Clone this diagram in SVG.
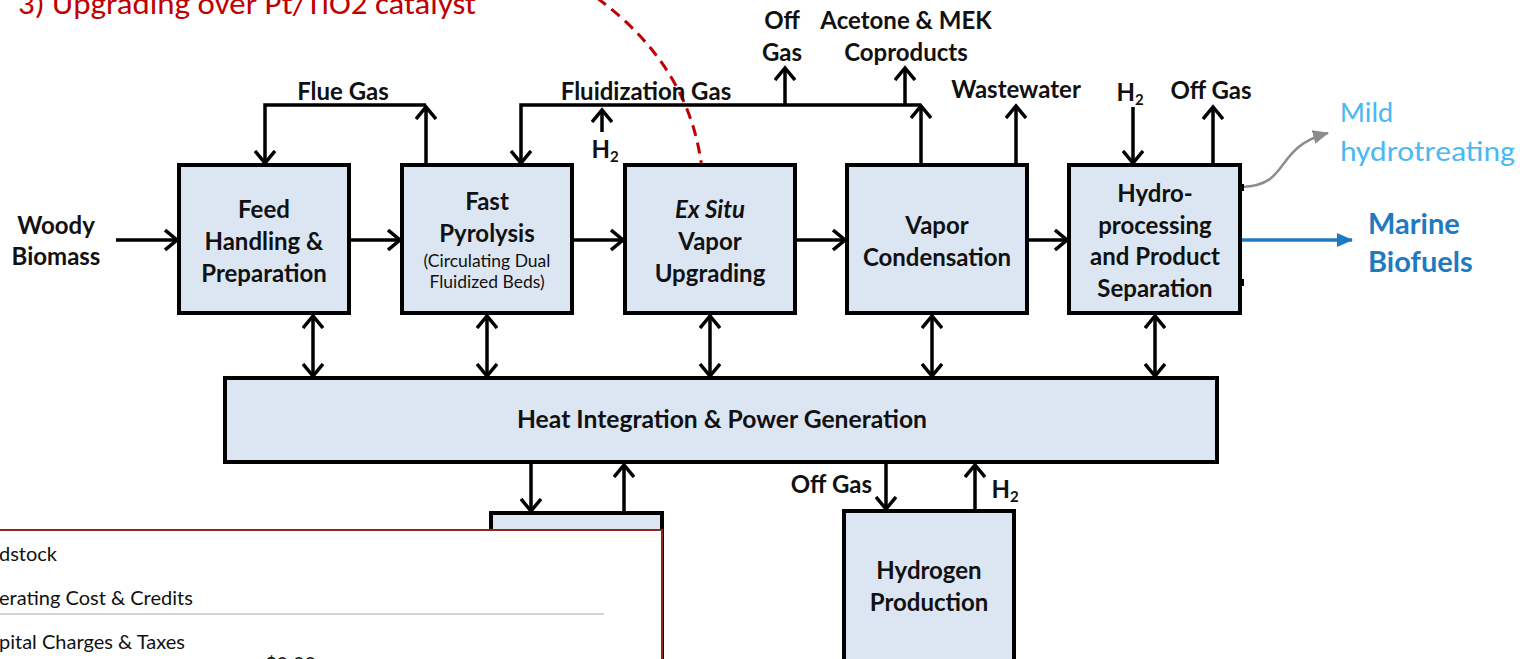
<svg xmlns="http://www.w3.org/2000/svg" width="1520" height="659" viewBox="0 0 1520 659">
<style>
.box{fill:#dce6f2;stroke:#000;stroke-width:4}
.t{font-family:Lato,"Open Sans","Liberation Sans",sans-serif;font-weight:bold;font-size:24px;fill:#111;text-anchor:middle}
.e{text-anchor:end}
.s{font-family:Lato,"Open Sans","Liberation Sans",sans-serif;font-size:17.5px;fill:#111;text-anchor:middle}
.c{fill:none;stroke:#000;stroke-width:3.5}
.tb{font-family:Lato,"Open Sans","Liberation Sans",sans-serif;font-size:20px;fill:#111}
</style>
<defs>
<marker id="ah" markerUnits="userSpaceOnUse" markerWidth="16" markerHeight="22" refX="13" refY="11" orient="auto-start-reverse" viewBox="0 0 16 22">
<path d="M1,1 L13,11 L1,21" fill="none" stroke="#000" stroke-width="3.5"/>
</marker>
<marker id="blue" markerUnits="userSpaceOnUse" markerWidth="16" markerHeight="14" refX="15" refY="7" orient="auto" viewBox="0 0 16 14">
<path d="M0,0 L16,7 L0,14 z" fill="#1f7ac0"/>
</marker>
<marker id="gray" markerUnits="userSpaceOnUse" markerWidth="16" markerHeight="14" refX="15" refY="7" orient="auto" viewBox="0 0 16 14">
<path d="M0,0 L16,7 L0,14 z" fill="#8c8c8c"/>
</marker>
</defs>
<rect width="1520" height="659" fill="#fff"/>

<text x="18" y="14" font-family="Calibri,'Open Sans','Liberation Sans',sans-serif" font-size="31" fill="#c00000" textLength="458" lengthAdjust="spacingAndGlyphs">3)   Upgrading over Pt/TiO2 catalyst</text>

<g id="connectors">
<line class="c" x1="116" y1="240" x2="177" y2="240" marker-end="url(#ah)"/>
<line class="c" x1="349" y1="240" x2="400" y2="240" marker-end="url(#ah)"/>
<line class="c" x1="572" y1="240" x2="623" y2="240" marker-end="url(#ah)"/>
<line class="c" x1="795" y1="240" x2="845" y2="240" marker-end="url(#ah)"/>
<line class="c" x1="1027" y1="240" x2="1067" y2="240" marker-end="url(#ah)"/>
<line x1="1242" y1="240" x2="1352" y2="240" stroke="#1f7ac0" stroke-width="3.5" marker-end="url(#blue)"/>
<path d="M1242 187 C1292 185 1272 148 1328 133" fill="none" stroke="#8c8c8c" stroke-width="2.5" marker-end="url(#gray)"/>
<line class="c" x1="426" y1="165" x2="426" y2="107" marker-end="url(#ah)"/>
<polyline class="c" points="426,105 265,105 265,163" marker-end="url(#ah)"/>
<line class="c" x1="921" y1="165" x2="921" y2="106" marker-end="url(#ah)"/>
<polyline class="c" points="921,105 521,105 521,163" marker-end="url(#ah)"/>
<line class="c" x1="785" y1="105" x2="785" y2="68" marker-end="url(#ah)"/>
<line class="c" x1="905" y1="105" x2="905" y2="68" marker-end="url(#ah)"/>
<line class="c" x1="602" y1="132" x2="602" y2="110" marker-end="url(#ah)"/>
<line class="c" x1="1016" y1="165" x2="1016" y2="106" marker-end="url(#ah)"/>
<line class="c" x1="1133" y1="107" x2="1133" y2="163" marker-end="url(#ah)"/>
<line class="c" x1="1213" y1="165" x2="1213" y2="107" marker-end="url(#ah)"/>
<line class="c" x1="313" y1="316" x2="313" y2="376" marker-start="url(#ah)" marker-end="url(#ah)"/>
<line class="c" x1="487" y1="316" x2="487" y2="376" marker-start="url(#ah)" marker-end="url(#ah)"/>
<line class="c" x1="710" y1="316" x2="710" y2="376" marker-start="url(#ah)" marker-end="url(#ah)"/>
<line class="c" x1="932" y1="316" x2="932" y2="376" marker-start="url(#ah)" marker-end="url(#ah)"/>
<line class="c" x1="1155" y1="316" x2="1155" y2="376" marker-start="url(#ah)" marker-end="url(#ah)"/>
<line class="c" x1="531" y1="463" x2="531" y2="511" marker-end="url(#ah)"/>
<line class="c" x1="624" y1="513" x2="624" y2="465" marker-end="url(#ah)"/>
<line class="c" x1="886" y1="463" x2="886" y2="509" marker-end="url(#ah)"/>
<line class="c" x1="975" y1="511" x2="975" y2="465" marker-end="url(#ah)"/>
<path d="M597 -2 Q695 70 703 180" fill="none" stroke="#c00000" stroke-width="3" stroke-dasharray="11,7"/>
</g>

<g id="labels">
<text class="t" x="56" y="234">Woody</text>
<text class="t" x="56" y="265">Biomass</text>
<text class="t" x="343" y="100">Flue Gas</text>
<text class="t" x="646" y="100">Fluidization Gas</text>
<text class="t" x="782" y="29">Off</text>
<text class="t" x="782" y="61">Gas</text>
<text class="t" x="906" y="29">Acetone &amp; MEK</text>
<text class="t" x="906" y="61">Coproducts</text>
<text class="t" x="1016" y="98">Wastewater</text>
<text class="t" x="1211" y="99">Off Gas</text>
<text class="t" x="1130" y="101">H<tspan font-size="15" dy="4">2</tspan></text>
<text class="t" x="605" y="158">H<tspan font-size="15" dy="4">2</tspan></text>
<text class="t e" x="872" y="493">Off Gas</text>
<text class="t" x="1005" y="498">H<tspan font-size="15" dy="4">2</tspan></text>
<text x="1340" y="122" font-family="Calibri,Lato,'Open Sans',sans-serif" font-size="29" fill="#4ab8f2">Mild</text>
<text x="1340" y="161" font-family="Calibri,Lato,'Open Sans',sans-serif" font-size="29" fill="#4ab8f2" textLength="175" lengthAdjust="spacingAndGlyphs">hydrotreating</text>
<text x="1368" y="234" font-family="Lato,'Open Sans',sans-serif" font-weight="bold" font-size="29" fill="#1f7ac0">Marine</text>
<text x="1368" y="272" font-family="Lato,'Open Sans',sans-serif" font-weight="bold" font-size="29" fill="#1f7ac0">Biofuels</text>
</g>

<g id="feed">
<rect class="box" x="179" y="165" width="170" height="148"/>
<text class="t" x="264" y="218">Feed</text>
<text class="t" x="264" y="250">Handling &amp;</text>
<text class="t" x="264" y="282">Preparation</text>
</g>
<g id="pyrolysis">
<rect class="box" x="402" y="165" width="170" height="148"/>
<text class="t" x="487" y="210">Fast</text>
<text class="t" x="487" y="242">Pyrolysis</text>
<text class="s" x="487" y="267">(Circulating Dual</text>
<text class="s" x="487" y="288">Fluidized Beds)</text>
</g>
<g id="exsitu">
<rect class="box" x="625" y="165" width="170" height="148"/>
<text class="t" x="710" y="218" font-style="italic">Ex Situ</text>
<text class="t" x="710" y="250">Vapor</text>
<text class="t" x="710" y="282">Upgrading</text>
</g>
<g id="condensation">
<rect class="box" x="847" y="165" width="180" height="148"/>
<text class="t" x="937" y="234">Vapor</text>
<text class="t" x="937" y="266">Condensation</text>
</g>
<g id="hydroprocessing">
<rect class="box" x="1069" y="165" width="171" height="148"/>
<rect x="1240" y="184" width="4" height="7" fill="#000"/>
<rect x="1240" y="279" width="4" height="7" fill="#000"/>
<text class="t" x="1155" y="202">Hydro-</text>
<text class="t" x="1155" y="234">processing</text>
<text class="t" x="1155" y="265">and Product</text>
<text class="t" x="1155" y="297">Separation</text>
</g>
<g id="heat">
<rect class="box" x="225" y="378" width="992" height="84"/>
<text class="t" x="722" y="428" textLength="410" lengthAdjust="spacingAndGlyphs">Heat Integration &amp; Power Generation</text>
</g>
<g id="hydrogen">
<rect class="box" x="844" y="511" width="170" height="160"/>
<text class="t" x="929" y="579">Hydrogen</text>
<text class="t" x="929" y="611">Production</text>
</g>
<g id="lowerbox">
<rect class="box" x="491" y="513" width="171" height="160"/>
</g>
<g id="table">
<rect x="-4" y="530" width="666" height="140" fill="#fff" stroke="#8b2a1c" stroke-width="2"/>
<text class="tb" x="-1" y="561">dstock</text>
<text class="tb" x="-1" y="605">erating Cost &amp; Credits</text>
<line x1="0" y1="614" x2="604" y2="614" stroke="#d4d4d4" stroke-width="2"/>
<text class="tb" x="-1" y="649">pital Charges &amp; Taxes</text>
<text class="tb" x="265" y="671">$0.00</text>
</g>
</svg>
